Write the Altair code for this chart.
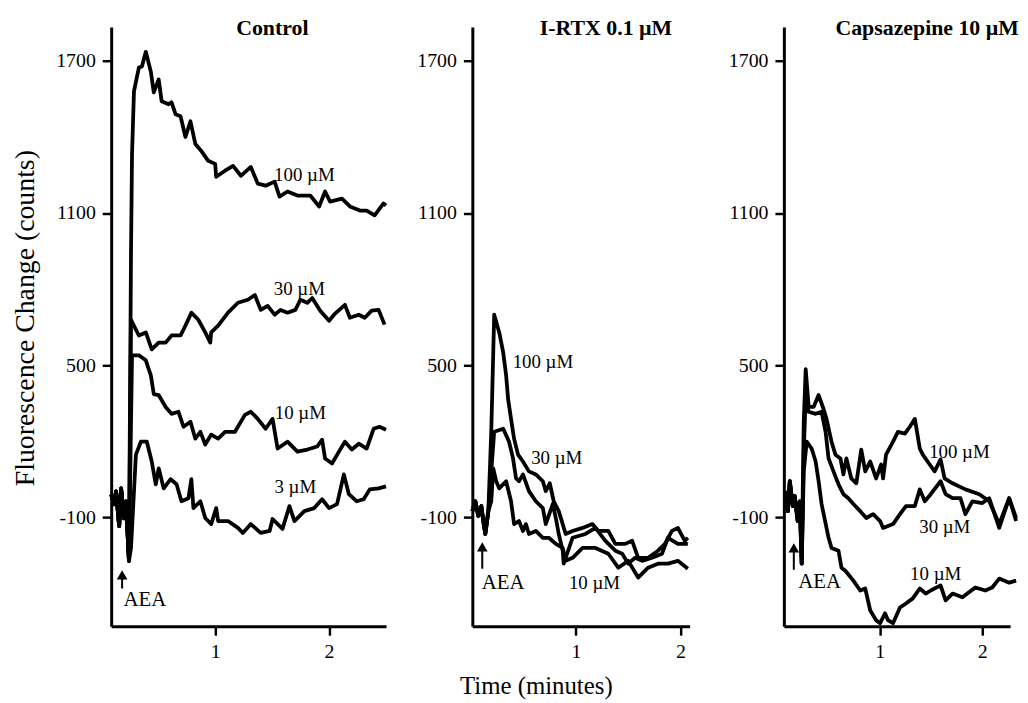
import altair as alt
import pandas as pd

FONT = "Liberation Serif"
Y_DOMAIN = [-530, 1834]
Y_TICKS = [-100, 500, 1100, 1700]
X_TICKS = [1, 2]
PLOT_H = 604

# ---------------- Control ----------------
ctrl_pre_t = [0.087, 0.113, 0.130, 0.157, 0.174, 0.200, 0.217, 0.243]
ctrl_pre_v = [-10, -49, 2, -135, 14, -104, -37, -272]

ctrl100_t = [0.261, 0.270, 0.287, 0.330, 0.357, 0.391, 0.435, 0.461, 0.504, 0.530,
             0.591, 0.617, 0.652, 0.696, 0.739, 0.783, 0.826, 0.878, 0.939, 1.000,
             1.009, 1.087, 1.157, 1.226, 1.313, 1.374, 1.443, 1.522, 1.565, 1.635,
             1.722, 1.835, 1.913, 1.965, 2.009, 2.113, 2.183, 2.270, 2.330, 2.400,
             2.478, 2.500]
ctrl100_v = [942, 1333, 1580, 1674, 1678, 1736, 1658, 1576, 1627, 1541,
             1529, 1537, 1490, 1482, 1400, 1462, 1372, 1345, 1306, 1294,
             1243, 1267, 1286, 1247, 1282, 1216, 1208, 1224, 1165, 1185,
             1169, 1169, 1126, 1185, 1145, 1157, 1126, 1110, 1110, 1091,
             1138, 1130]

ctrl30_t = [0.261, 0.330, 0.391, 0.443, 0.504, 0.565, 0.617, 0.696, 0.739, 0.791,
            0.852, 0.913, 0.957, 0.965, 1.026, 1.113, 1.200, 1.287, 1.348, 1.400,
            1.461, 1.522, 1.574, 1.635, 1.704, 1.748, 1.809, 1.852, 1.922, 2.000,
            2.043, 2.139, 2.183, 2.261, 2.313, 2.374, 2.435, 2.487]
ctrl30_v = [679, 617, 629, 562, 589, 589, 617, 617, 656, 707,
            679, 629, 589, 629, 656, 707, 746, 758, 777, 718,
            734, 699, 718, 707, 718, 758, 746, 765, 715, 675,
            699, 738, 687, 699, 687, 715, 718, 660]

ctrl10_t = [0.270, 0.330, 0.391, 0.435, 0.461, 0.504, 0.565, 0.617, 0.678, 0.722,
            0.783, 0.826, 0.870, 0.913, 0.965, 1.026, 1.087, 1.174, 1.261, 1.313,
            1.374, 1.443, 1.504, 1.548, 1.635, 1.722, 1.809, 1.896, 1.939, 1.965,
            2.026, 2.087, 2.139, 2.200, 2.261, 2.330, 2.391, 2.443, 2.500]
ctrl10_v = [539, 539, 519, 460, 386, 382, 335, 308, 316, 257,
            277, 210, 237, 187, 226, 210, 237, 237, 304, 316,
            288, 249, 288, 171, 198, 159, 167, 179, 206, 132,
            112, 159, 198, 167, 190, 171, 249, 257, 245]

ctrl3_t = [0.261, 0.304, 0.348, 0.400, 0.443, 0.478, 0.504, 0.548, 0.609, 0.661,
           0.704, 0.765, 0.791, 0.809, 0.870, 0.913, 0.965, 1.009, 1.026, 1.113,
           1.200, 1.243, 1.313, 1.400, 1.478, 1.504, 1.591, 1.652, 1.696, 1.783,
           1.870, 1.939, 2.000, 2.070, 2.130, 2.174, 2.243, 2.304, 2.357, 2.435,
           2.500]
ctrl3_v = [-221, 147, 198, 198, 120, 30, 93, 14, 50, 30,
           -37, -25, 50, -64, -37, -103, -127, -64, -115, -115,
           -142, -162, -127, -162, -154, -107, -146, -56, -115, -76,
           -64, -29, -64, -48, 69, -9, -37, -29, 10, 14,
           22]

ctrl_labels = ["100 \u00b5M", "30 \u00b5M", "10 \u00b5M", "3 \u00b5M", "AEA"]
ctrl_label_t = [1.783, 1.739, 1.748, 1.704, 0.383]
ctrl_label_v = [1251, 801, 311, 18, -428]
ctrl_arrow = [0.183, -381, -311]

# ---------------- I-RTX 0.1 uM ----------------
rtx_pre_t = [0.010, 0.039, 0.067, 0.096, 0.115, 0.134, 0.163]
rtx_pre_v = [-76, -37, -95, -56, -115, -166, -76]

rtx100_t = [0.191, 0.219, 0.267, 0.305, 0.333, 0.352, 0.380, 0.409, 0.447, 0.494,
            0.551, 0.617, 0.684, 0.712, 0.750, 0.788, 0.836, 0.874, 0.902, 0.968,
            1.064, 1.158, 1.215, 1.310, 1.377, 1.472, 1.538, 1.595, 1.690, 1.785,
            1.851, 1.918, 1.975, 2.041, 2.070]
rtx100_v = [237, 699, 629, 550, 460, 366, 288, 210, 147, 120,
            81, 69, 42, 3, 34, -37, -76, -127, -166, -154,
            -142, -127, -154, -154, -205, -205, -193, -260, -260, -232,
            -205, -154, -142, -193, -181]

rtx30_t = [0.191, 0.219, 0.305, 0.361, 0.399, 0.428, 0.456, 0.494, 0.551, 0.617,
           0.684, 0.712, 0.779, 0.808, 0.836, 0.874, 0.883, 0.968, 1.092, 1.187,
           1.282, 1.377, 1.443, 1.500, 1.566, 1.633, 1.728, 1.823, 1.880, 1.975,
           2.070]
rtx30_v = [81, 237, 249, 198, 132, 53, 42, 69, 3, -37,
           -64, -127, -48, -103, -166, -232, -283, -181, -166, -142,
           -193, -232, -244, -283, -260, -272, -260, -244, -181, -205,
           -205]

rtx10_t = [0.191, 0.210, 0.238, 0.267, 0.333, 0.380, 0.409, 0.456, 0.494, 0.522,
           0.551, 0.617, 0.684, 0.741, 0.808, 0.874, 0.902, 0.968, 1.064, 1.187,
           1.310, 1.405, 1.500, 1.595, 1.690, 1.785, 1.880, 1.975, 2.070]
rtx10_v = [-37, 93, 42, 14, 42, -37, -127, -115, -154, -127,
           -166, -154, -181, -181, -205, -221, -272, -260, -221, -221,
           -244, -299, -272, -338, -299, -283, -283, -272, -303]

rtx_labels = ["100 \u00b5M", "30 \u00b5M", "10 \u00b5M", "AEA"]
rtx_label_t = [0.685, 0.817, 1.178, 0.305]
rtx_label_v = [511, 132, -358, -358]
rtx_arrow = [0.105, -303, -201]

# ---------------- Capsazepine 10 uM ----------------
cpz_pre_t = [0.074, 0.103, 0.122, 0.151, 0.170, 0.199, 0.219, 0.238]
cpz_pre_v = [3, -76, 42, -56, -17, -115, -37, -283]

cpz100_t = [0.258, 0.277, 0.306, 0.354, 0.403, 0.451, 0.480, 0.529, 0.567, 0.616,
            0.645, 0.674, 0.722, 0.771, 0.819, 0.858, 0.906, 0.964, 1.013, 1.032,
            1.061, 1.129, 1.177, 1.245, 1.293, 1.342, 1.390, 1.419, 1.487, 1.535,
            1.593, 1.632, 1.710, 1.835, 1.971, 2.068, 2.165, 2.262, 2.330]
cpz100_v = [276, 484, 335, 335, 382, 327, 288, 198, 147, 132,
            69, 132, 53, 34, 167, 81, 120, 53, 108, 53,
            147, 198, 237, 230, 257, 288, 171, 147, 108, 81,
            128, 53, 34, 10, -9, -37, -127, -25, -103]

cpz30_t = [0.258, 0.277, 0.306, 0.374, 0.432, 0.471, 0.500, 0.548, 0.597, 0.645,
           0.693, 0.742, 0.809, 0.868, 0.935, 1.003, 1.032, 1.129, 1.197, 1.255,
           1.342, 1.390, 1.439, 1.497, 1.593, 1.642, 1.710, 1.787, 1.835, 1.903,
           2.000, 2.068, 2.165, 2.262, 2.330]
cpz30_v = [159, 374, 316, 308, 316, 237, 132, 81, 30, -9,
           -25, -48, -76, -103, -88, -115, -142, -127, -88, -56,
           -56, 10, -37, -9, 42, -9, -25, -25, -88, -37,
           -44, -25, -142, -25, -115]

cpz10_t = [0.258, 0.287, 0.335, 0.374, 0.403, 0.432, 0.500, 0.529, 0.597, 0.626,
           0.664, 0.742, 0.809, 0.858, 0.906, 0.964, 1.003, 1.051, 1.080, 1.129,
           1.197, 1.255, 1.322, 1.390, 1.448, 1.497, 1.593, 1.642, 1.710, 1.806,
           1.932, 2.029, 2.097, 2.165, 2.262, 2.330]
cpz10_v = [81, 198, 171, 120, 42, -48, -181, -221, -232, -299,
           -311, -350, -389, -381, -467, -506, -518, -479, -506, -518,
           -456, -440, -420, -381, -401, -389, -369, -428, -401, -416,
           -377, -389, -377, -342, -358, -350]

cpz_labels = ["100 \u00b5M", "30 \u00b5M", "10 \u00b5M", "AEA"]
cpz_label_t = [1.777, 1.634, 1.545, 0.413]
cpz_label_v = [159, -139, -323, -354]
cpz_arrow = [0.161, -307, -205]


def series_df(pre_t, pre_v, groups):
    rows = []
    for name, ts, vs in groups:
        for t, v in zip(pre_t + ts, pre_v + vs):
            rows.append({"t": t, "v": v, "s": name})
    return pd.DataFrame(rows)


def label_df(texts, ts, vs):
    return pd.DataFrame({
        "txt": texts, "t": ts, "v": vs,
        "fs": [21 if s == "AEA" else 19 for s in texts],
    })


def panel(df, ldf, arrow, title, title_dx, xdom, width, ytitle, xtitle):
    xs = alt.Scale(domain=xdom, nice=False, zero=False)
    ys = alt.Scale(domain=Y_DOMAIN, nice=False, zero=False)
    if xtitle:
        xaxis = alt.Axis(values=X_TICKS, title=xtitle, titleFont=FONT, titleFontSize=25,
                         titleFontWeight="normal", titleColor="black",
                         titleX=64, titleY=68, titleAlign="center",
                         titleBaseline="alphabetic", titleAngle=0,
                         labelExpr="'' + datum.value")
    else:
        xaxis = alt.Axis(values=X_TICKS, title="", labelExpr="'' + datum.value")
    if ytitle:
        yaxis = alt.Axis(values=Y_TICKS, title=ytitle, titleFont=FONT, titleFontSize=28,
                         titleFontWeight="normal", titleColor="black",
                         titleX=-78, titleY=293, titleAlign="center",
                         titleBaseline="alphabetic", titleAngle=270,
                         labelExpr="'' + datum.value")
    else:
        yaxis = alt.Axis(values=Y_TICKS, title="", labelExpr="'' + datum.value")

    lines = alt.Chart(df).mark_line(color="black", strokeWidth=3.8, strokeJoin="round").encode(
        x=alt.X("t:Q", scale=xs, axis=xaxis),
        y=alt.Y("v:Q", scale=ys, axis=yaxis),
        detail="s:N",
    )
    texts = alt.Chart(ldf).mark_text(font=FONT, color="black", align="center",
                                     baseline="middle").encode(
        x=alt.X("t:Q", scale=xs),
        y=alt.Y("v:Q", scale=ys),
        text="txt:N",
        size=alt.Size("fs:Q", scale=None),
    )
    adf = pd.DataFrame({"t": [arrow[0]], "v0": [arrow[1]], "v1": [arrow[2] - 22],
                        "vh": [arrow[2] - 16]})
    shaft = alt.Chart(adf).mark_rule(color="black", strokeWidth=2).encode(
        x=alt.X("t:Q", scale=xs),
        y=alt.Y("v0:Q", scale=ys),
        y2="v1:Q",
    )
    head = alt.Chart(adf).mark_point(shape="triangle-up", filled=True, size=115,
                                     color="black", opacity=1).encode(
        x=alt.X("t:Q", scale=xs),
        y=alt.Y("vh:Q", scale=ys),
    )
    return alt.layer(lines, texts, shaft, head).properties(
        width=width, height=PLOT_H,
        title=alt.TitleParams(text=title, anchor="start", frame="group", dx=title_dx,
                              dy=30, offset=0, font=FONT, fontSize=22,
                              fontWeight="bold", color="black", baseline="alphabetic"),
    )


def spacer(w):
    return alt.Chart(pd.DataFrame({"a": [0]})).mark_point(opacity=0).encode(
        x=alt.X("a:Q", axis=None), y=alt.Y("a:Q", axis=None),
    ).properties(width=w, height=PLOT_H)


p1 = panel(
    series_df(ctrl_pre_t, ctrl_pre_v, [("100", ctrl100_t, ctrl100_v), ("30", ctrl30_t, ctrl30_v),
                                        ("10", ctrl10_t, ctrl10_v), ("3", ctrl3_t, ctrl3_v)]),
    label_df(ctrl_labels, ctrl_label_t, ctrl_label_v), ctrl_arrow,
    "Control", 126, [0.087, 2.5], 277, "Fluorescence Change (counts)", None)

p2 = panel(
    series_df(rtx_pre_t, rtx_pre_v, [("100", rtx100_t, rtx100_v), ("30", rtx30_t, rtx30_v),
                                      ("10", rtx10_t, rtx10_v)]),
    label_df(rtx_labels, rtx_label_t, rtx_label_v), rtx_arrow,
    "I-RTX 0.1 \u00b5M", 68, [0.01, 2.087], 219, None, "Time (minutes)")

p3 = panel(
    series_df(cpz_pre_t, cpz_pre_v, [("100", cpz100_t, cpz100_v), ("30", cpz30_t, cpz30_v),
                                      ("10", cpz10_t, cpz10_v)]),
    label_df(cpz_labels, cpz_label_t, cpz_label_v), cpz_arrow,
    "Capsazepine 10 \u00b5M", 52, [0.064, 2.271], 228, None, None)

chart = alt.hconcat(p1, spacer(87), p2, spacer(95), p3, spacing=0, bounds="flush").properties(
    autosize=alt.AutoSizeParams(type="none"),
    padding={"left": 104, "top": 14, "right": 916, "bottom": 681},
    background="white",
).configure_view(strokeWidth=0).configure_axis(
    domainColor="black", domainWidth=3, tickColor="black", tickWidth=2.5, tickSize=9,
    labelFont=FONT, labelFontSize=20, labelColor="black", labelPadding=7, grid=False,
)

chart.save("out.html", embed_options={"renderer": "svg", "actions": False})
